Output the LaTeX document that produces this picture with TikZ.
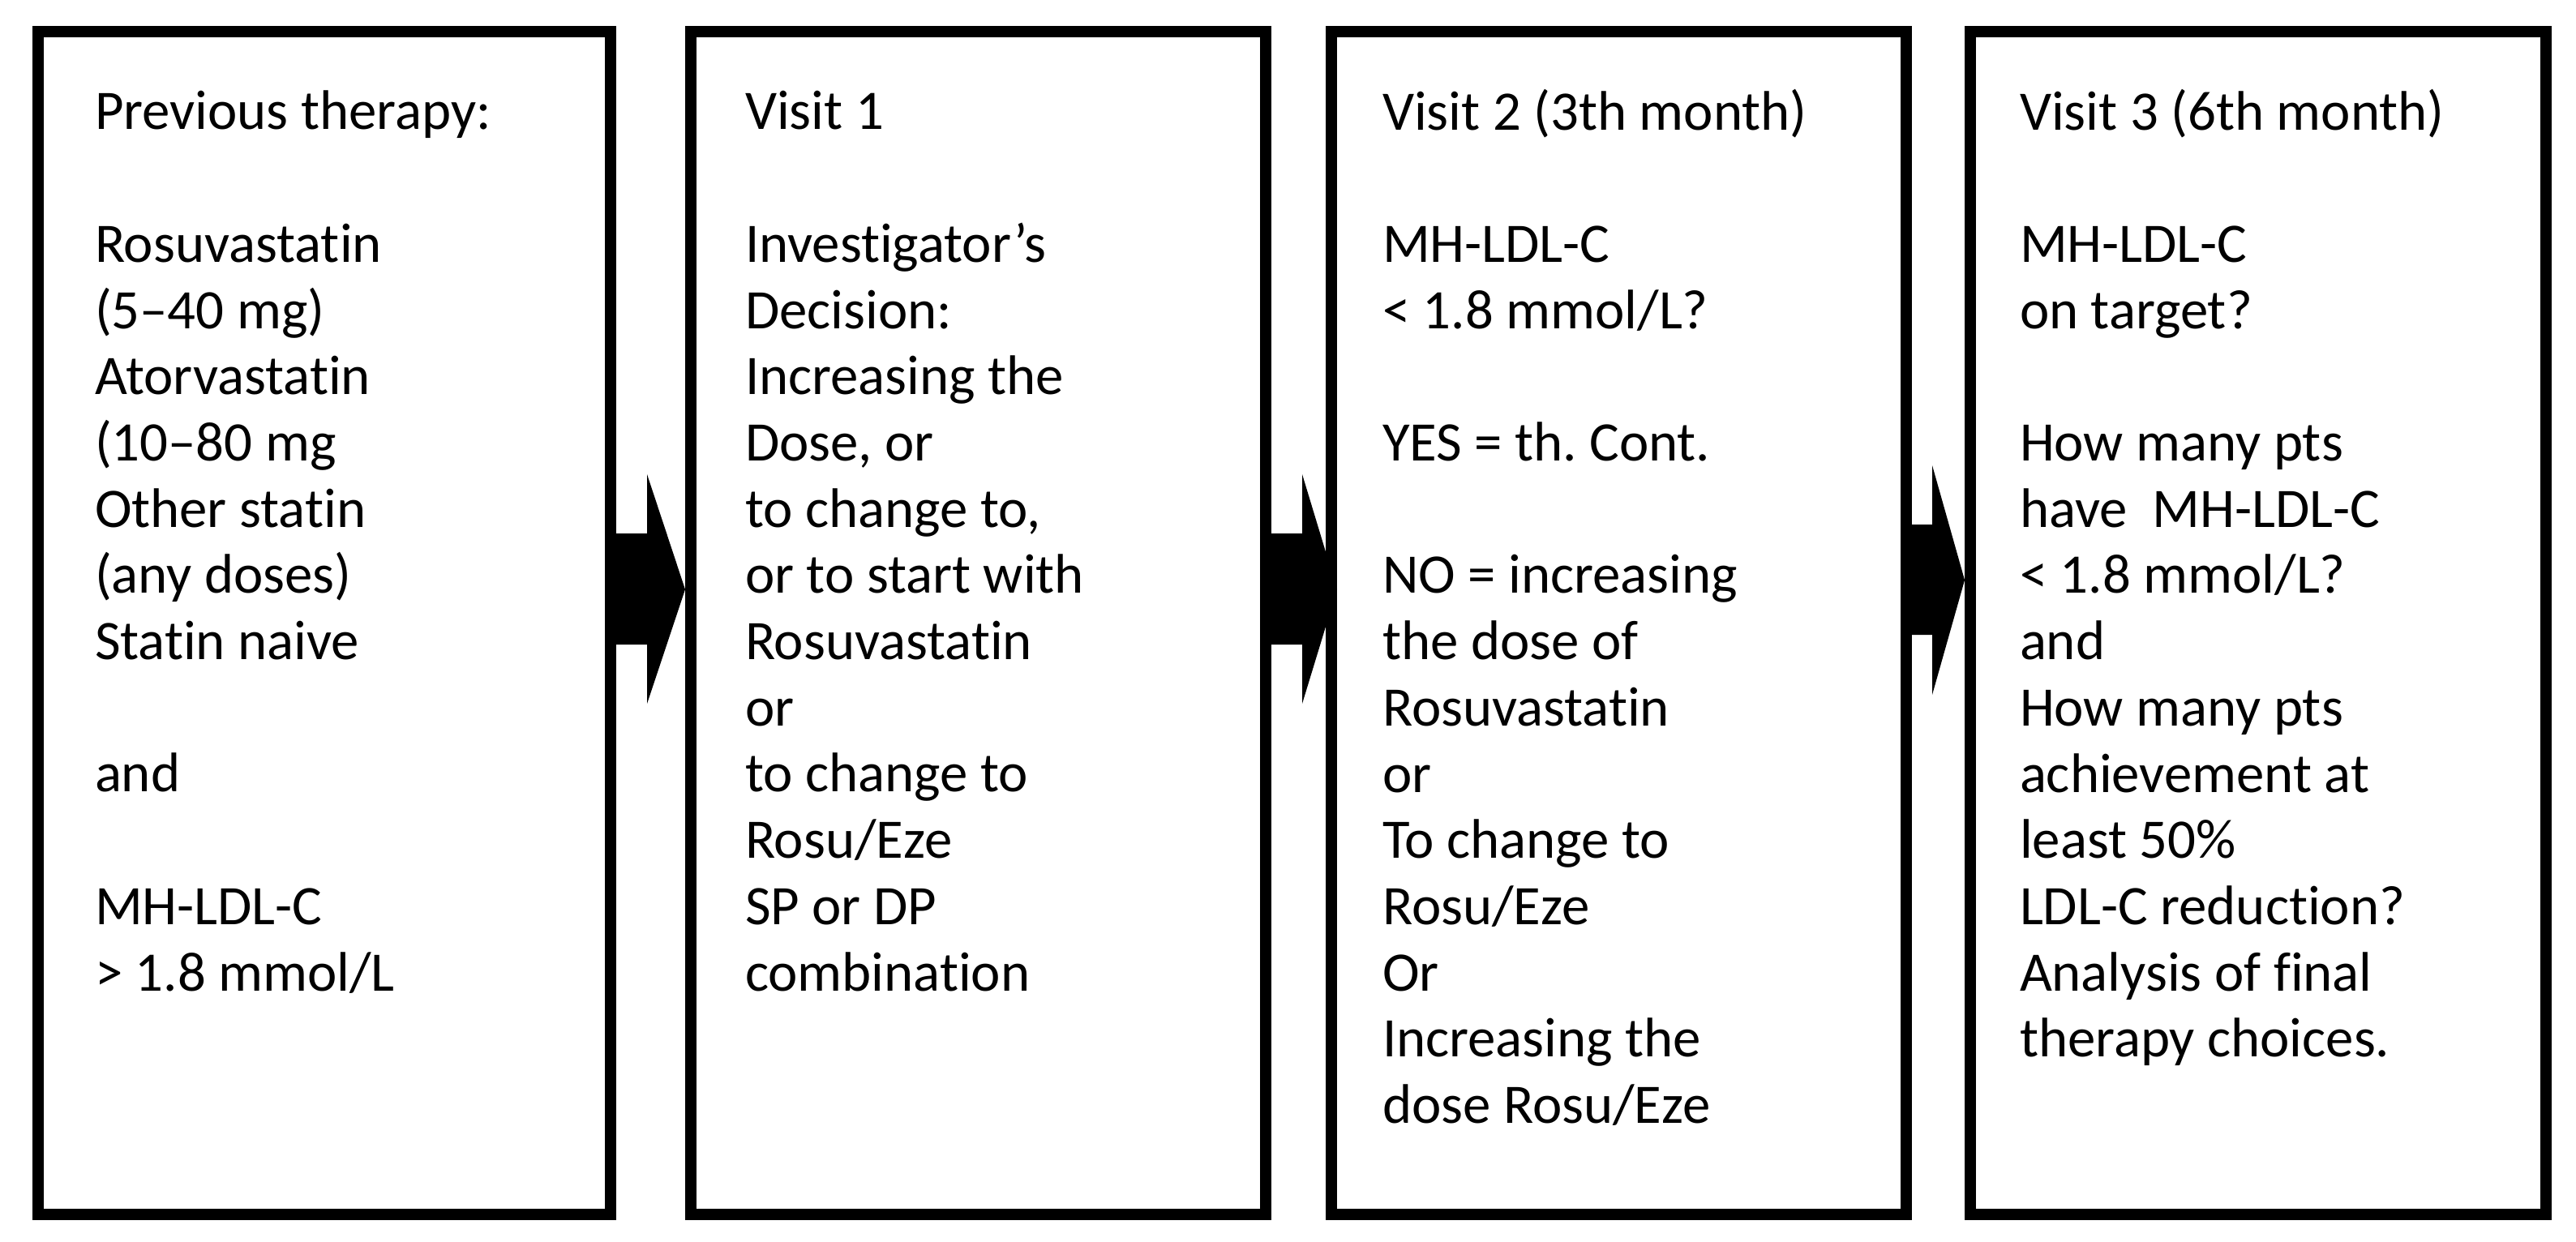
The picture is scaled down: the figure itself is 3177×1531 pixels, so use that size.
\documentclass[tikz,border=0pt]{standalone}
\usepackage{fontspec}
\setmainfont{Carlito}[Ligatures=NoCommon]
\frenchspacing
\newdimen\upx
\upx=0.25pt
\begin{document}
\begin{tikzpicture}[x=0.25pt,y=-0.25pt,
  box/.style={draw=black, line width=14\upx, fill=none, inner sep=0pt},
  txt/.style={anchor=base west, align=left, inner sep=0pt, outer sep=0pt,
    font=\fontsize{17.2pt}{20.425pt}\selectfont}]
\useasboundingbox (0,0) rectangle (3177,1531);
\fill[white] (0,0) rectangle (3177,1531);
% boxes
\node[box, minimum width=706\upx, minimum height=1459\upx] (b1) at (400,768.5) {};
\node[box, minimum width=709\upx, minimum height=1459\upx] (b2) at (1206.5,768.5) {};
\node[box, minimum width=709\upx, minimum height=1459\upx] (b3) at (1996.5,768.5) {};
\node[box, minimum width=710\upx, minimum height=1459\upx] (b4) at (2785,768.5) {};
% texts (anchor = baseline of the last line)
\node[txt] (t1) at (117,1222) {Previous therapy:\\[20.425pt]
Rosuvastatin\\(5–40 mg)\\Atorvastatin\\(10–80 mg\\Other statin\\(any doses)\\Statin naive\\[20.425pt]
and\\[20.425pt]
MH-LDL-C\\> 1.8 mmol/L};
\node[txt] (t2) at (919,1222) {Visit 1\\[20.425pt]
Investigator’s\\Decision:\\Increasing the\\Dose, or\\to change to,\\or to start with\\Rosuvastatin\\or\\to change to\\Rosu/Eze\\SP or DP\\combination};
\node[txt] (t3) at (1705,1385.5) {Visit 2 (3th month)\\[20.425pt]
MH-LDL-C\\< 1.8 mmol/L?\\[20.425pt]
YES = th. Cont.\\[20.425pt]
NO = increasing\\the dose of\\Rosuvastatin\\or\\To change to\\Rosu/Eze\\Or\\Increasing the\\dose Rosu/Eze};
\node[txt] (t4) at (2491,1303.8) {Visit 3 (6th month)\\[20.425pt]
MH-LDL-C\\on target?\\[20.425pt]
How many pts\\have\ \ MH-LDL-C\\< 1.8 mmol/L?\\and\\How many pts\\achievement at\\least 50\%\\LDL-C reduction?\\Analysis of final\\therapy choices.};
% block arrows
\fill[black] (b1.east |- 0,658) -- (798,658) -- (798,585) -- (b2.west |- 0,727)
  -- (798,868) -- (798,795) -- (b1.east |- 0,795) -- cycle;
\fill[black] (b2.east |- 0,658) -- (1606,658) -- (1606,585) -- ([xshift=14\upx]b3.west |- 0,727)
  -- (1606,868) -- (1606,795) -- (b2.east |- 0,795) -- cycle;
\fill[black] (b3.east |- 0,647) -- (2383,647) -- (2383,574) -- (b4.west |- 0,715.5)
  -- (2383,857) -- (2383,783) -- (b3.east |- 0,783) -- cycle;
\end{tikzpicture}
\end{document}
